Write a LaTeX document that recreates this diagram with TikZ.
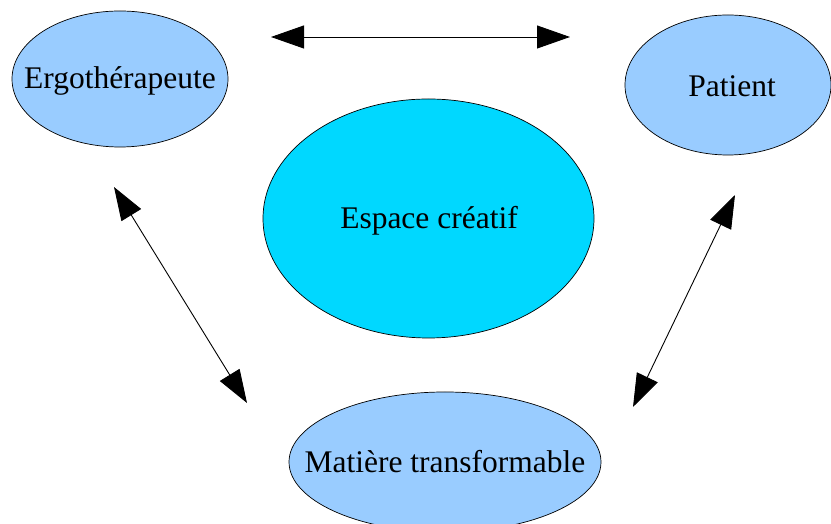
\documentclass[tikz,border=0pt]{standalone}
\usepackage{fontspec}
\setmainfont{Liberation Serif}
\usetikzlibrary{arrows.meta}
\definecolor{lightblue}{HTML}{99CCFF}
\definecolor{cyanfill}{HTML}{00D8FF}
\begin{document}
\begin{tikzpicture}[x=1pt,y=1pt,
  bubble/.style={draw=black,line width=0.7pt,fill=lightblue},
  label/.style={inner sep=0pt,font=\fontsize{31.5}{36}\selectfont},
  link/.style={line width=0.9pt,{Triangle[length=33pt,width=23pt]}-{Triangle[length=33pt,width=23pt]}}]
\useasboundingbox (0,0) rectangle (831,524);
\coordinate (ergoC) at (120,445);
\coordinate (patientC) at (728,439);
\coordinate (espaceC) at (428.5,305.5);
\coordinate (matiereC) at (445,62);
\path[bubble] (ergoC) ellipse [x radius=108, y radius=68];
\path[bubble] (patientC) ellipse [x radius=103, y radius=70];
\path[bubble,fill=cyanfill] (espaceC) ellipse [x radius=165.5, y radius=119.5];
\path[bubble] (matiereC) ellipse [x radius=156, y radius=70];
\node[label] (ergo) at (120,443) {Ergothérapeute};
\node[label] (patient) at (732,438) {Patient};
\node[label] (espace) at (429,303) {Espace créatif};
\node[label] (matiere) at (445,62) {Matière transformable};
\coordinate (t1) at (271,487);
\coordinate (t2) at (570,487);
\coordinate (l1) at (114,337);
\coordinate (l2) at (247,121);
\coordinate (r1) at (735,329);
\coordinate (r2) at (633,117);
\draw[link] (t1) -- (t2);
\draw[link] (l1) -- (l2);
\draw[link] (r1) -- (r2);
\end{tikzpicture}
\end{document}
